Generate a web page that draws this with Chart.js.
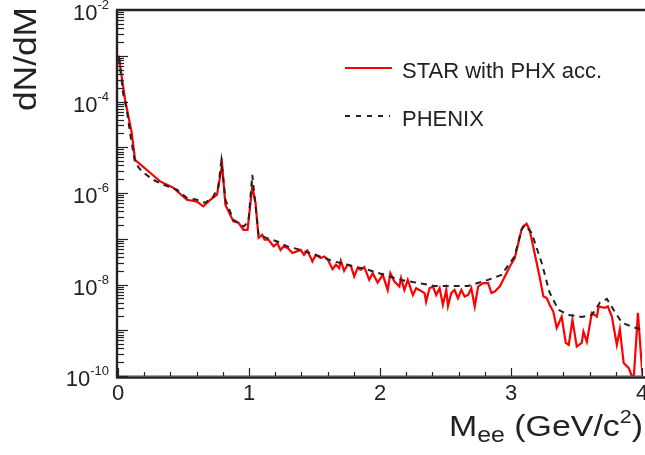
<!DOCTYPE html>
<html><head><meta charset="utf-8">
<script src="https://cdn.jsdelivr.net/npm/chart.js@4/dist/chart.umd.min.js"></script>
<style>html,body{margin:0;padding:0;background:#fff}#wrap{width:645px;height:455px;position:relative}</style>
</head><body><div id="wrap"><canvas id="c" width="645" height="455"></canvas></div>
<script>
// ---- data ----
const starMass = [0.005,0.054,0.105,0.130,0.143,0.245,0.322,0.421,0.526,0.603,0.651,0.705,0.756,0.795,0.820,0.881,0.920,0.958,0.989,1.025,1.050,1.073,1.101,1.119,1.149,1.188,1.216,1.241,1.264,1.295,1.331,1.395,
1.420,1.446,1.484,1.510,1.548,1.573,1.599,1.638,1.663,1.688,1.701,1.726,1.752,1.778,1.803,1.829,1.854,1.880,1.918,1.944,1.982,2.021,2.059,2.079,2.110,2.148,2.161,2.186,2.212,2.251,2.276,2.301,2.340,2.352,2.378,2.404,2.429,2.455,2.480,2.506,2.519,2.544,2.569,2.595,2.621,2.646,2.672,2.697,2.723,2.749,2.787,2.825,2.851,2.876,2.914,2.953,2.991,3.029,3.080,
3.093,3.119,3.142,3.180,3.218,3.247,3.272,3.295,3.323,3.349,3.387,3.418,3.441,3.469,3.502,3.540,3.553,3.579,3.617,3.655,3.670,3.716,3.739,3.770,3.808,3.831,3.860,3.898,3.936,3.969,3.995,4.010];
const starValues = [1.0e-3,1.1e-4,2.05e-5,5.35e-6,4.9e-6,2.77e-6,1.79e-6,1.30e-6,7.1e-7,6.5e-7,5.1e-7,7.1e-7,9.2e-7,4.15e-6,5.5e-7,2.4e-7,2.23e-7,1.57e-7,1.57e-7,1.39e-6,6.1e-7,1.05e-7,1.22e-7,9.5e-8,9.5e-8,6.8e-8,8.0e-8,5.7e-8,6.8e-8,6.3e-8,4.9e-8,5.7e-8,
4.45e-8,5.5e-8,3.2e-8,4.45e-8,3.8e-8,4.1e-8,3.6e-8,2.16e-8,2.7e-8,2.28e-8,3.3e-8,2.0e-8,2.7e-8,2.56e-8,1.5e-8,2.28e-8,2.1e-8,2.4e-8,1.26e-8,1.77e-8,1.1e-8,1.63e-8,7.6e-9,1.77e-8,1.16e-8,9.0e-9,1.38e-8,7.6e-9,1.26e-8,5.9e-9,8.3e-9,7.6e-9,6.5e-9,4.2e-9,8.3e-9,9.0e-9,5.9e-9,8.3e-9,3.6e-9,7.6e-9,3.4e-9,6.5e-9,7.6e-9,5.0e-9,7.6e-9,5.45e-9,5.9e-9,8.3e-9,3.3e-9,9.0e-9,1.07e-8,1.07e-8,6.5e-9,7.0e-9,9.0e-9,1.5e-8,2.47e-8,3.8e-8,1.57e-7,
1.85e-7,2.12e-7,1.57e-7,4.9e-8,1.5e-8,5.45e-9,5.1e-9,3.6e-9,2.56e-9,1.12e-9,1.99e-9,5.3e-10,4.8e-10,1.68e-9,4.4e-10,5.3e-10,9.3e-10,5.6e-10,2.4e-9,1.99e-9,3.3e-9,3.1e-9,3.3e-9,1.99e-9,4.8e-10,1.05e-9,1.93e-10,1.5e-10,8.0e-11,2.4e-9,2.2e-10,7.0e-11];

const phenixMass = [0.008,0.038,0.067,0.092,0.130,0.182,0.268,0.345,0.450,0.526,0.603,0.667,0.728,0.766,0.789,0.820,0.881,0.960,0.996,1.025,1.055,1.073,1.139,1.216,1.293,1.395,1.648,1.906,2.161,2.414,2.674,2.825,2.927,3.027,3.080,3.106,3.157,3.234,3.295,3.362,3.438,3.540,3.617,3.678,3.732,3.783,3.847,3.923,4.000];
const phenixValues = [9.1e-4,1.56e-4,6.6e-5,2.08e-5,4.6e-6,2.96e-6,1.95e-6,1.52e-6,1.18e-6,7.8e-7,7.1e-7,6.1e-7,8.4e-7,1.39e-6,5.1e-6,7.1e-7,2.6e-7,1.85e-7,2.39e-7,2.5e-6,3.7e-7,1.22e-7,1.03e-7,8.7e-8,6.8e-8,5.7e-8,3.2e-8,2.1e-8,1.26e-8,9.3e-9,9.3e-9,1.26e-8,1.62e-8,4.1e-8,1.57e-7,2.0e-7,1.35e-7,3.0e-8,6.6e-9,2.8e-9,2.16e-9,1.95e-9,2.16e-9,4.0e-9,4.85e-9,2.8e-9,1.45e-9,1.2e-9,1.02e-9];

const floorMass = [0, 4];
const floorValues = [1e-10, 1e-10];

const seriesLabels = ['STAR with PHX acc.', 'PHENIX'];
const xTickLabels = ['0', '1', '2', '3', '4'];
const xTickValues = [0, 1, 2, 3, 4];
const yTickBases = ['10', '10', '10', '10', '10'];
const yTickExponents = ['-2', '-4', '-6', '-8', '-10'];
const yTickValues = [1e-2, 1e-4, 1e-6, 1e-8, 1e-10];
const xTitle = ['M', 'ee', ' (GeV/c', '2', ')'];
const yTitle = 'dN/dM';

// ---- drawing ----
const FONT = '"Liberation Sans", Arial, Helvetica, sans-serif';
const INK = '#222222';
const pts = (xs, ys) => xs.map((m, i) => ({x: m, y: ys[i]}));

function drawParts(ctx, parts, sx) {
  let x = 0;
  for (const p of parts) {
    ctx.font = p.size + 'px ' + FONT;
    const w = ctx.measureText(p.t).width * sx;
    ctx.save(); ctx.translate(x, p.dy); ctx.scale(sx, 1); ctx.fillText(p.t, 0, 0); ctx.restore();
    x += w;
  }
  return x;
}
function partsWidth(ctx, parts, sx) {
  let x = 0;
  for (const p of parts) { ctx.font = p.size + 'px ' + FONT; x += ctx.measureText(p.t).width * sx; }
  return x;
}

const framePlugin = {
  id: 'frame',
  afterDatasetsDraw(chart) {
    const {ctx, chartArea: a, scales: {x, y}} = chart;
    ctx.save();
    ctx.strokeStyle = INK; ctx.fillStyle = INK;
    ctx.textBaseline = 'alphabetic'; ctx.textAlign = 'left';
    // x ticks (major each unit, minor every 0.2)
    ctx.lineWidth = 1.2;
    for (let i = 0; i <= 20; i++) {
      const px = Math.round(x.getPixelForValue(i * 0.2)) + 0.5;
      const len = (i % 5 === 0) ? 8 : 4;
      ctx.beginPath(); ctx.moveTo(px, a.bottom); ctx.lineTo(px, a.bottom - len); ctx.stroke();
    }
    // y ticks (decades major, 2..9 minor)
    for (let e = -10; e < -2; e++) {
      for (let k = 1; k <= 9; k++) {
        const py = Math.round(y.getPixelForValue(k * Math.pow(10, e))) + 0.5;
        const len = k === 1 ? 10 : 6;
        ctx.beginPath(); ctx.moveTo(a.left, py); ctx.lineTo(a.left + len, py); ctx.stroke();
      }
    }
    // frame: left, bottom, top
    ctx.lineWidth = 2.4;
    ctx.beginPath();
    ctx.moveTo(a.left - 1, a.top); ctx.lineTo(a.left - 1, a.bottom + 1.5);
    ctx.moveTo(a.left - 2, a.bottom + 1.5); ctx.lineTo(chart.width, a.bottom + 1.5);
    ctx.moveTo(a.left - 2, a.top); ctx.lineTo(chart.width, a.top);
    ctx.stroke();
    // x tick labels
    ctx.font = '22px ' + FONT; ctx.textAlign = 'center';
    xTickValues.forEach((v, i) => {
      ctx.fillText(xTickLabels[i], x.getPixelForValue(v), a.bottom + 24);
    });
    // y tick labels with superscript exponent
    ctx.textAlign = 'left';
    yTickValues.forEach((v, i) => {
      const py = y.getPixelForValue(v);
      ctx.font = '13px ' + FONT;
      const sw = ctx.measureText(yTickExponents[i]).width;
      ctx.font = '22px ' + FONT;
      const bw = ctx.measureText(yTickBases[i]).width;
      const right = 109;
      ctx.fillText(yTickBases[i], right - sw - bw, py + 10);
      ctx.font = '13px ' + FONT;
      ctx.fillText(yTickExponents[i], right - sw, py - 1);
    });
    // x title
    const xp = [
      {t: xTitle[0], size: 30, dy: 0}, {t: xTitle[1], size: 22, dy: 6},
      {t: xTitle[2], size: 30, dy: 0}, {t: xTitle[3], size: 19, dy: -13},
      {t: xTitle[4], size: 30, dy: 0}];
    const sx = 1.13;
    const tw = partsWidth(ctx, xp, sx);
    ctx.save(); ctx.translate(643 - tw, 436); drawParts(ctx, xp, sx); ctx.restore();
    // y title
    const yp = [{t: yTitle, size: 31, dy: 0}];
    const yw = partsWidth(ctx, yp, 1.14);
    ctx.save(); ctx.translate(36, 59 + yw / 2); ctx.rotate(-Math.PI / 2); drawParts(ctx, yp, 1.14); ctx.restore();
    // legend
    const legendRows = [
      {label: chart.data.datasets[0].label, color: '#ff0000', dash: [], y: 68, x2: 392},
      {label: chart.data.datasets[1].label, color: INK, dash: [5, 6], y: 116, x2: 390}];
    legendRows.forEach(r => {
      ctx.save();
      ctx.strokeStyle = r.color; ctx.lineWidth = 2; ctx.setLineDash(r.dash);
      ctx.beginPath(); ctx.moveTo(345, r.y); ctx.lineTo(r.x2, r.y); ctx.stroke();
      ctx.restore();
      ctx.font = '22px ' + FONT; ctx.fillStyle = INK; ctx.textAlign = 'left';
      ctx.fillText(r.label, 402, r.y + 9.5);
    });
    ctx.restore();
  }
};

new Chart(document.getElementById('c'), {
  type: 'line',
  data: {
    datasets: [
      {label: seriesLabels[0], data: pts(starMass, starValues), borderColor: '#ff0000', borderWidth: 2.2, pointRadius: 0, tension: 0, fill: false, order: 1},
      {label: seriesLabels[1], data: pts(phenixMass, phenixValues), borderColor: INK, borderWidth: 2, borderDash: [6, 5], pointRadius: 0, tension: 0, fill: false, order: 0},
      {label: '', data: pts(floorMass, floorValues), borderColor: '#ff0000', borderWidth: 1.2, pointRadius: 0, fill: false, order: 2}
    ]
  },
  options: {
    responsive: false,
    animation: false,
    devicePixelRatio: 1,
    parsing: true,
    layout: {padding: {top: 10, right: 3, left: 0, bottom: 0}},
    plugins: {legend: {display: false}, tooltip: {enabled: false}},
    scales: {
      x: {type: 'linear', min: 0, max: 4, ticks: {display: false}, grid: {display: false}, border: {display: false},
          afterFit(s) { s.height = 79; }},
      y: {type: 'logarithmic', min: 1e-10, max: 1e-2, ticks: {display: false}, grid: {display: false}, border: {display: false},
          afterFit(s) { s.width = 118; }}
    }
  },
  plugins: [framePlugin]
});
</script>
</body></html>
